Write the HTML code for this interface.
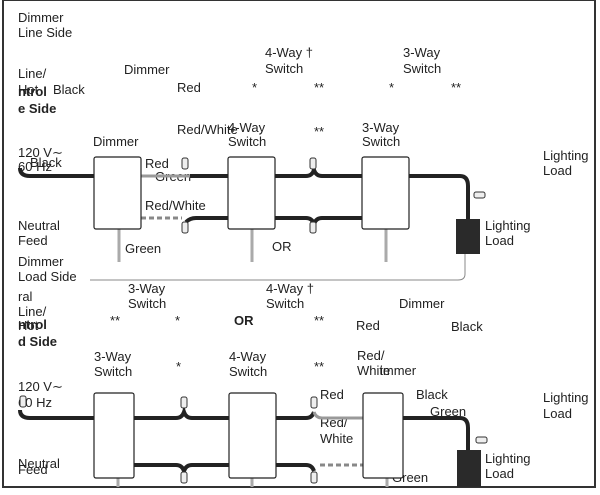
<!DOCTYPE html>
<html><head><style>
body{margin:0;background:#fff;}
svg text{font-family:"Liberation Sans",sans-serif;font-size:13px;fill:#222;}
</style></head><body>
<svg width="600" height="490" xmlns="http://www.w3.org/2000/svg">
<rect x="3" y="0" width="592" height="487" fill="none" stroke="#333" stroke-width="2"/>
<!-- top section -->
<text x="18" y="22" font-size="15">Dimmer</text>
<text x="18" y="37" font-size="15">Line Side</text>
<text x="18" y="78">Line/</text>
<text x="18" y="94">Hot</text><text x="53" y="94">Black</text>
<text x="18" y="96" font-weight="bold" font-size="15">ntrol</text>
<text x="18" y="113" font-weight="bold" font-size="15">e Side</text>
<text x="124" y="74">Dimmer</text>
<text x="177" y="92">Red</text>
<text x="265" y="57">4-Way †</text><text x="265" y="73">Switch</text>
<text x="403" y="57">3-Way</text><text x="403" y="73">Switch</text>
<text x="252" y="92">*</text><text x="314" y="92">**</text><text x="389" y="92">*</text><text x="451" y="92">**</text>
<text x="177" y="134">Red/White</text>
<text x="228" y="132">4-Way</text><text x="228" y="146">Switch</text>
<text x="362" y="132">3-Way</text><text x="362" y="146">Switch</text>
<text x="93" y="146">Dimmer</text>
<text x="314" y="136">**</text>
<text x="18" y="157">120 V∼</text><text x="18" y="171">60 Hz</text><text x="30" y="167">Black</text>
<text x="145" y="168">Red</text><text x="155" y="181">Green</text>
<text x="145" y="210">Red/White</text>
<text x="18" y="230">Neutral</text><text x="18" y="245" font-size="12">Feed</text>
<text x="125" y="253">Green</text>
<text x="272" y="251" font-size="15">OR</text>
<text x="543" y="160">Lighting</text><text x="543" y="175">Load</text>
<text x="485" y="230">Lighting</text><text x="485" y="245">Load</text>
<text x="18" y="266" font-size="15">Dimmer</text>
<text x="18" y="281" font-size="15">Load Side</text>
<!-- top wires -->
<path d="M20 168 Q20 176 30 176 L94 176" stroke="#222" stroke-width="4" fill="none"/>
<line x1="141" y1="176" x2="190" y2="176" stroke="#999" stroke-width="3"/>
<line x1="190" y1="176" x2="228" y2="176" stroke="#222" stroke-width="4"/>
<line x1="141" y1="218" x2="182" y2="218" stroke="#888" stroke-width="3" stroke-dasharray="5,3"/>
<path d="M186 222 Q190 218 196 218 L228 218" stroke="#222" stroke-width="4" fill="none"/>
<path d="M275 176 L306 176 Q312 176 314 170 Q316 176 322 176 L362 176" stroke="#222" stroke-width="4" fill="none"/>
<path d="M275 218 L306 218 Q312 218 314 224 Q316 218 322 218 L362 218" stroke="#222" stroke-width="4" fill="none"/>
<path d="M409 176 L460 176 Q468 176 468 186 L468 219" stroke="#222" stroke-width="4" fill="none"/>
<path d="M465 253 L465 274 Q465 280 458 280 L90 280" stroke="#888" stroke-width="1" fill="none"/>
<line x1="119" y1="229" x2="119" y2="262" stroke="#aaa" stroke-width="3"/>
<line x1="252" y1="229" x2="252" y2="262" stroke="#aaa" stroke-width="3"/>
<line x1="386" y1="229" x2="386" y2="262" stroke="#aaa" stroke-width="3"/>
<rect x="94" y="157" width="47" height="72" rx="2" fill="#fff" stroke="#222" stroke-width="1.2"/>
<rect x="228" y="157" width="47" height="72" rx="2" fill="#fff" stroke="#222" stroke-width="1.2"/>
<rect x="362" y="157" width="47" height="72" rx="2" fill="#fff" stroke="#222" stroke-width="1.2"/>
<rect x="456" y="219" width="24" height="35" fill="#2a2a2a"/>
<g fill="#eee" stroke="#333" stroke-width="1">
<rect x="182" y="158" width="6" height="11" rx="2"/><rect x="182" y="222" width="6" height="11" rx="2"/>
<rect x="310" y="158" width="6" height="11" rx="2"/><rect x="310" y="222" width="6" height="11" rx="2"/>
<rect x="474" y="192" width="11" height="6" rx="2"/>
</g>
<!-- bottom section -->
<text x="128" y="293">3-Way</text><text x="128" y="308">Switch</text>
<text x="266" y="293">4-Way †</text><text x="266" y="308">Switch</text>
<text x="399" y="308">Dimmer</text>
<text x="18" y="301">ral</text><text x="18" y="316">Line/</text><text x="18" y="330">Hot</text>
<text x="18" y="329" font-weight="bold" font-size="15">ntrol</text>
<text x="18" y="346" font-weight="bold" font-size="15">d Side</text>
<text x="110" y="325">**</text><text x="175" y="325">*</text>
<text x="234" y="325" font-size="15" font-weight="bold">OR</text>
<text x="314" y="325">**</text><text x="356" y="330">Red</text><text x="451" y="331">Black</text>
<text x="94" y="361">3-Way</text><text x="94" y="376">Switch</text>
<text x="229" y="361">4-Way</text><text x="229" y="376">Switch</text>
<text x="176" y="371">*</text><text x="314" y="371">**</text>
<text x="357" y="360">Red/</text><text x="357" y="375">White</text><text x="380" y="375">immer</text>
<text x="18" y="391">120 V∼</text><text x="18" y="407">60 Hz</text>
<text x="320" y="399">Red</text>
<text x="416" y="399">Black</text><text x="430" y="416">Green</text>
<text x="320" y="427">Red/</text><text x="320" y="443">White</text>
<text x="543" y="402">Lighting</text><text x="543" y="418">Load</text>
<text x="485" y="463">Lighting</text><text x="485" y="478">Load</text>
<text x="18" y="468">Neutral</text><text x="18" y="474" font-size="12">Feed</text>
<text x="392" y="482">Green</text>
<path d="M20 410 Q20 418 30 418 L94 418" stroke="#222" stroke-width="4" fill="none"/>
<path d="M134 418 L176 418 Q182 418 184 412 Q186 418 192 418 L229 418" stroke="#222" stroke-width="4" fill="none"/>
<path d="M134 465 L176 465 Q182 465 184 471 Q186 465 192 465 L229 465" stroke="#222" stroke-width="4" fill="none"/>
<path d="M276 418 L306 418 Q312 418 314 412" stroke="#222" stroke-width="4" fill="none"/>
<path d="M314 412 Q316 418 322 418 L363 418" stroke="#999" stroke-width="3" fill="none"/>
<path d="M276 465 L306 465 Q312 465 314 471" stroke="#222" stroke-width="4" fill="none"/>
<line x1="320" y1="465" x2="363" y2="465" stroke="#888" stroke-width="3" stroke-dasharray="5,3"/>
<path d="M403 418 L460 418 Q468 418 468 428 L468 450" stroke="#222" stroke-width="4" fill="none"/>
<line x1="118" y1="478" x2="118" y2="487" stroke="#aaa" stroke-width="3"/>
<line x1="252" y1="478" x2="252" y2="487" stroke="#aaa" stroke-width="3"/>
<line x1="387" y1="478" x2="387" y2="487" stroke="#aaa" stroke-width="3"/>
<rect x="94" y="393" width="40" height="85" rx="2" fill="#fff" stroke="#222" stroke-width="1.2"/>
<rect x="229" y="393" width="47" height="85" rx="2" fill="#fff" stroke="#222" stroke-width="1.2"/>
<rect x="363" y="393" width="40" height="85" rx="2" fill="#fff" stroke="#222" stroke-width="1.2"/>
<rect x="457" y="450" width="24" height="37" fill="#2a2a2a"/>
<g fill="#eee" stroke="#333" stroke-width="1">
<rect x="181" y="397" width="6" height="11" rx="2"/><rect x="181" y="472" width="6" height="11" rx="2"/>
<rect x="311" y="397" width="6" height="11" rx="2"/><rect x="311" y="472" width="6" height="11" rx="2"/>
<rect x="20" y="396" width="6" height="11" rx="2"/>
<rect x="476" y="437" width="11" height="6" rx="2"/>
</g>
</svg>
</body></html>
